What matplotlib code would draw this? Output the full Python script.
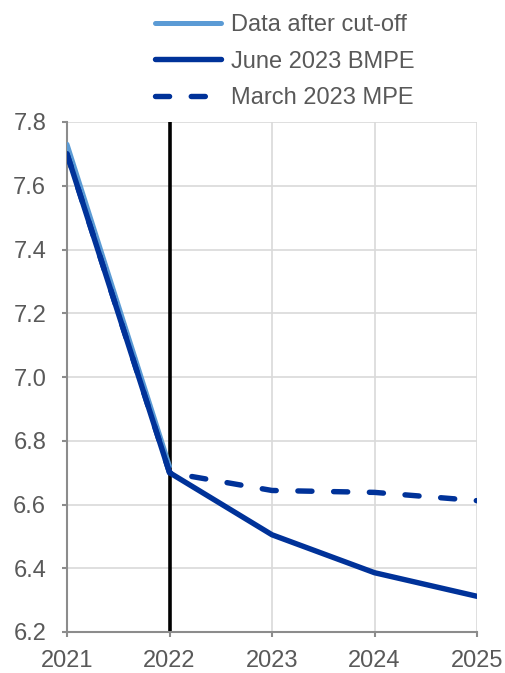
import matplotlib
matplotlib.use("Agg")
import matplotlib.pyplot as plt

plt.rcParams['font.family'] = ['Liberation Sans', 'DejaVu Sans']

years = [2021, 2022, 2023, 2024, 2025]
data_after_cutoff_x = [2021, 2022]
data_after_cutoff = [7.73, 6.72]
june_2023_bmpe = [7.70, 6.70, 6.505, 6.386, 6.312]
march_2023_mpe = [7.70, 6.70, 6.644, 6.638, 6.612]
yticks = [6.2, 6.4, 6.6, 6.8, 7.0, 7.2, 7.4, 7.6, 7.8]
cutoff_year = 2022

light_blue = '#5B9BD5'
dark_blue = '#003299'
text_gray = '#595959'
spine_gray = '#8C8C8C'
grid_gray = '#D9D9D9'

fig = plt.figure(figsize=(5.06, 6.73), dpi=100)
ax = fig.add_axes([67/506, 1-632/673, (477-67)/506, (632-122)/673])

ax.axvline(cutoff_year, color='black', lw=2.6, zorder=2)
l1, = ax.plot(data_after_cutoff_x, data_after_cutoff, color=light_blue, lw=3.6,
              solid_capstyle='round', zorder=3, label='Data after cut-off')
l3, = ax.plot(years, march_2023_mpe, color=dark_blue, lw=3.9, ls=(0, (2.6, 4.0)),
              dash_capstyle='round', zorder=4, label='March 2023 MPE')
l2, = ax.plot(years, june_2023_bmpe, color=dark_blue, lw=3.9,
              solid_capstyle='round', zorder=5, label='June 2023 BMPE')

ax.set_xlim(2021, 2025)
ax.set_ylim(6.2, 7.8)
ax.set_xticks(years)
ax.set_xticklabels([str(y) for y in years])
ax.set_yticks(yticks)
ax.set_yticklabels([f'{v:.1f}' for v in yticks])
ax.grid(True, color=grid_gray, lw=1.2)
ax.set_axisbelow(True)
for s in ['top', 'right']:
    ax.spines[s].set_visible(False)
for s in ['left', 'bottom']:
    ax.spines[s].set_color(spine_gray)
    ax.spines[s].set_linewidth(1.5)
ax.tick_params(axis='both', colors=spine_gray, labelcolor=text_gray,
               labelsize=17, length=3.5, width=1.5, direction='out')
ax.tick_params(axis='x', pad=9.5)
ax.tick_params(axis='y', pad=11.5)

leg = fig.legend(handles=[l1, l2, l3], loc='upper left',
                 bbox_to_anchor=(155/506, 1 - 14/673), frameon=False,
                 borderaxespad=0, borderpad=0,
                 fontsize=17, handlelength=2.8, handletextpad=0.4,
                 labelspacing=0.62, labelcolor=text_gray)

fig.savefig('out.png', dpi=100)
